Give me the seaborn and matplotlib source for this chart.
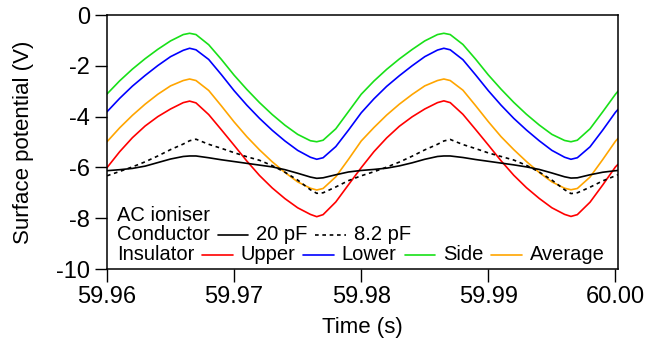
import matplotlib
matplotlib.use("Agg")
import matplotlib.pyplot as plt
import seaborn as sns
import pandas as pd
from matplotlib.lines import Line2D
from matplotlib.offsetbox import TextArea, DrawingArea, HPacker, VPacker, AnchoredOffsetbox

# time offsets after 59.96 s, in ms
time_ms = [0, 1, 2, 3, 4, 5, 6, 6.5, 7, 8, 9, 10, 11, 12, 13, 14, 15, 16, 16.5, 17, 18, 19,
           20, 21, 22, 23, 24, 25, 26, 26.5, 27, 28, 29, 30, 31, 32, 33, 34, 35, 36, 36.5, 37, 38, 39,
           40, 40.2]

upper = [-6.01, -5.38, -4.83, -4.37, -4.00, -3.70, -3.45, -3.39, -3.46, -3.92, -4.52, -5.13, -5.75,
         -6.32, -6.81, -7.23, -7.59, -7.85, -7.94, -7.86, -7.36, -6.68,
         -6.01, -5.38, -4.84, -4.38, -4.01, -3.70, -3.45, -3.38, -3.45, -3.91, -4.51, -5.12, -5.74,
         -6.31, -6.80, -7.22, -7.59, -7.85, -7.93, -7.86, -7.37, -6.69,
         -5.98, -5.88]
lower = [-3.81, -3.28, -2.80, -2.38, -1.99, -1.64, -1.39, -1.31, -1.37, -1.75, -2.35, -2.98, -3.55,
         -4.07, -4.54, -4.96, -5.33, -5.60, -5.68, -5.62, -5.18, -4.53,
         -3.85, -3.30, -2.81, -2.39, -2.00, -1.64, -1.38, -1.31, -1.37, -1.76, -2.36, -2.98, -3.55,
         -4.07, -4.53, -4.95, -5.33, -5.60, -5.68, -5.62, -5.19, -4.53,
         -3.83, -3.72]
side = [-3.11, -2.59, -2.13, -1.72, -1.35, -1.02, -0.77, -0.72, -0.77, -1.17, -1.75, -2.37, -2.93,
        -3.45, -3.92, -4.34, -4.70, -4.95, -4.99, -4.93, -4.48, -3.80,
        -3.12, -2.60, -2.14, -1.73, -1.36, -1.02, -0.77, -0.72, -0.77, -1.16, -1.74, -2.36, -2.92,
        -3.44, -3.91, -4.33, -4.70, -4.94, -4.99, -4.93, -4.48, -3.81,
        -3.12, -3.00]
average = [-4.99, -4.44, -3.95, -3.51, -3.12, -2.79, -2.58, -2.52, -2.58, -2.97, -3.58, -4.21, -4.79,
           -5.31, -5.78, -6.20, -6.57, -6.82, -6.89, -6.83, -6.37, -5.68,
           -4.96, -4.43, -3.94, -3.51, -3.13, -2.79, -2.58, -2.52, -2.58, -2.96, -3.57, -4.20, -4.79,
           -5.30, -5.77, -6.20, -6.57, -6.82, -6.88, -6.83, -6.38, -5.69,
           -4.97, -4.86]
cond_20pf = [-6.13, -6.09, -6.04, -5.95, -5.81, -5.67, -5.57, -5.55, -5.55, -5.62, -5.70, -5.77, -5.84,
             -5.91, -5.98, -6.09, -6.23, -6.38, -6.43, -6.41, -6.29, -6.18,
             -6.12, -6.08, -6.03, -5.94, -5.82, -5.68, -5.57, -5.55, -5.55, -5.61, -5.69, -5.76, -5.83,
             -5.90, -5.98, -6.08, -6.22, -6.37, -6.42, -6.41, -6.29, -6.19,
             -6.13, -6.12]
cond_8p2pf = [-6.33, -6.16, -5.98, -5.78, -5.55, -5.30, -5.08, -4.95, -4.89, -5.09, -5.25, -5.42, -5.58,
              -5.72, -5.93, -6.19, -6.50, -6.88, -7.02, -7.00, -6.77, -6.52,
              -6.33, -6.17, -5.99, -5.79, -5.56, -5.31, -5.09, -4.96, -4.90, -5.10, -5.26, -5.43, -5.57,
              -5.71, -5.92, -6.18, -6.50, -6.88, -7.03, -7.00, -6.78, -6.53,
              -6.33, -6.29]

x_ticks = [59.96, 59.97, 59.98, 59.99, 60.00]
y_ticks = [0, -2, -4, -6, -8, -10]

RED, BLUE, GREEN, ORANGE = "#ff0000", "#0000ff", "#18e018", "#ffa500"
DASH = (0, (2.2, 2.2))

sns.set_theme(style="ticks")
plt.rcParams["font.family"] = ["Liberation Sans", "DejaVu Sans"]
plt.rcParams["axes.unicode_minus"] = False

df = pd.DataFrame({"time": [59.96 + v / 1000 for v in time_ms],
                   "upper": upper, "lower": lower, "side": side, "average": average,
                   "c20": cond_20pf, "c8": cond_8p2pf})

fig = plt.figure(figsize=(6.45, 3.43), dpi=100)
ax = fig.add_axes([107 / 645, 1 - 269 / 343, 511 / 645, 254 / 343])

for col, color in [("side", GREEN), ("lower", BLUE), ("average", ORANGE), ("upper", RED)]:
    sns.lineplot(data=df, x="time", y=col, color=color, lw=1.2, ax=ax)
sns.lineplot(data=df, x="time", y="c20", color="black", lw=1.2, ax=ax)
sns.lineplot(data=df, x="time", y="c8", color="black", lw=1.2, linestyle=DASH, ax=ax)

ax.set_xlim(59.96, 59.96 + 40.2 / 1000)
ax.set_ylim(-10, 0)
ax.set_xticks(x_ticks)
ax.set_xticklabels(["%.2f" % v for v in x_ticks])
ax.set_yticks(y_ticks)
ax.set_yticklabels([str(v) for v in y_ticks])
ax.tick_params(axis="both", length=9, width=1.0, pad=3, labelsize=17, color="black", labelcolor="black")
for s in ax.spines.values():
    s.set_linewidth(1.1)
    s.set_color("black")
ax.set_xlabel("Time (s)", fontsize=16, labelpad=6.5, color="black")
ax.set_ylabel("Surface potential (V)", fontsize=16, labelpad=16, color="black")


# legend built from text pieces and short line samples
def txt(s):
    return TextArea(s, textprops=dict(fontsize=14.5, color="black"))


def sample(color, ls="-"):
    da = DrawingArea(22, 10, 0, 0)
    da.add_artist(Line2D([0, 22], [3.8, 3.8], color=color, lw=1.2, linestyle=ls))
    return da


row1 = HPacker(children=[txt("AC ioniser")], align="baseline", pad=0, sep=0)
row2 = HPacker(children=[txt("Conductor"), sample("black"), txt("20 pF"), sample("black", DASH), txt("8.2 pF")],
               align="baseline", pad=0, sep=5.7)
row3 = HPacker(children=[txt("Insulator"), sample(RED), txt("Upper"), sample(BLUE), txt("Lower"),
                         sample(GREEN), txt("Side"), sample(ORANGE), txt("Average")],
               align="baseline", pad=0, sep=5.7)
box = VPacker(children=[row1, row2, row3], align="left", pad=0, sep=0.5)
anch = AnchoredOffsetbox(loc="lower left", child=box, pad=0, borderpad=0, frameon=False,
                         bbox_to_anchor=(0.019, 0.02), bbox_transform=ax.transAxes)
ax.add_artist(anch)

fig.savefig("out.png", dpi=100)
